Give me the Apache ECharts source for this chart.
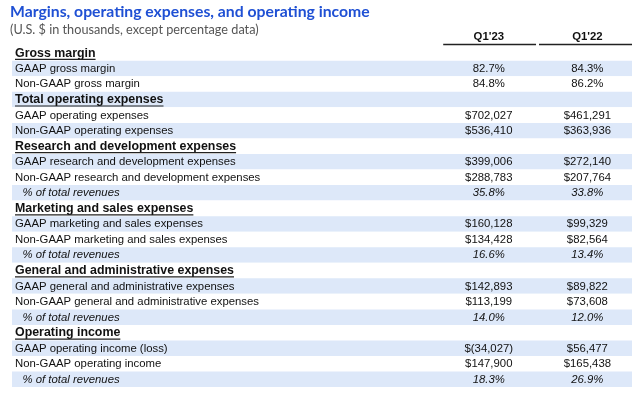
<!DOCTYPE html>
<html>
<head>
<meta charset="utf-8">
<script src="https://cdn.jsdelivr.net/npm/echarts@6/dist/echarts.min.js"></script>
<style>html,body{margin:0;padding:0;background:#fff}#c{width:640px;height:400px}</style>
</head>
<body>
<div id="c"></div>
<script>
// ---- data ----
var titleText = 'Margins, operating expenses, and operating income';
var subtitleText = '(U.S. $ in thousands, except percentage data)';
var columnNames = ["Q1'23", "Q1'22"];
var rowLabels = [
  'Gross margin',
  'GAAP gross margin',
  'Non-GAAP gross margin',
  'Total operating expenses',
  'GAAP operating expenses',
  'Non-GAAP operating expenses',
  'Research and development expenses',
  'GAAP research and development expenses',
  'Non-GAAP research and development expenses',
  '% of total revenues',
  'Marketing and sales expenses',
  'GAAP marketing and sales expenses',
  'Non-GAAP marketing and sales expenses',
  '% of total revenues',
  'General and administrative expenses',
  'GAAP general and administrative expenses',
  'Non-GAAP general and administrative expenses',
  '% of total revenues',
  'Operating income',
  'GAAP operating income (loss)',
  'Non-GAAP operating income',
  '% of total revenues'
];
var rowKinds = ['head','pct','pct','head','usd','usd','head','usd','usd','share','head','usd','usd','share','head','usd','usd','share','head','usd','usd','share'];
var q123Values = [null,82.7,84.8,null,702027,536410,null,399006,288783,35.8,null,160128,134428,16.6,null,142893,113199,14.0,null,-34027,147900,18.3];
var q122Values = [null,84.3,86.2,null,461291,363936,null,272140,207764,33.8,null,99329,82564,13.4,null,89822,73608,12.0,null,56477,165438,26.9];

// ---- layout / style ----
var colCenters = [0.769, 0.928];
var colBounds = [[0.6955, 0.8452], [0.8500, 1.0]];
var bodyFont = '"Liberation Sans", Arial, sans-serif';
var titleFont = 'Lato, "Open Sans", sans-serif';
var bodySize = 11.35, headSize = 12.4;

var ctx = document.createElement('canvas').getContext('2d');
function textWidth(t, font) { ctx.font = font; return ctx.measureText(t).width; }
function fitSize(t, weight, family, target) {
  var w = textWidth(t, weight + ' 20px ' + family);
  return 20 * target / w;
}
var titleSize = fitSize(titleText, 'bold', titleFont, 360);
var subSize = fitSize(subtitleText, 'normal', titleFont, 249);

function fmt(v, kind) {
  if (v === null || v === undefined) return '';
  if (kind === 'pct' || kind === 'share') return v.toFixed(1) + '%';
  var s = Math.abs(v).toString().replace(/\B(?=(\d{3})+(?!\d))/g, ',');
  return v < 0 ? '$(' + s + ')' : '$' + s;
}

var chart = echarts.init(document.getElementById('c'), null, {renderer: 'canvas'});

function renderRow(params, api) {
  var i = api.value(1);
  var kind = rowKinds[i];
  var p = api.coord([0, i]);
  var y = p[1];
  var children = [];
  var isHead = kind === 'head';
  var isShare = kind === 'share';
  var fs = isHead ? headSize : bodySize;
  var lx = p[0] + (isShare ? 10.5 : 3);
  children.push({
    type: 'text', x: lx, y: y + 0.3,
    style: {
      text: rowLabels[i], fill: '#111', fontSize: fs, fontFamily: bodyFont,
      fontWeight: isHead ? 'bold' : 'normal', fontStyle: isShare ? 'italic' : 'normal',
      align: 'left', verticalAlign: 'middle'
    }
  });
  if (isHead) {
    var w = textWidth(rowLabels[i], 'bold ' + headSize + 'px ' + bodyFont);
    children.push({
      type: 'line',
      shape: {x1: lx, y1: y + 6.4, x2: lx + w, y2: y + 6.4},
      style: {stroke: '#222', lineWidth: 1.2}
    });
  }
  var vals = [q123Values[i], q122Values[i]];
  for (var c = 0; c < 2; c++) {
    var t = fmt(vals[c], kind);
    if (!t) continue;
    var cx = api.coord([colCenters[c], i])[0];
    children.push({
      type: 'text', x: cx, y: y + 0.3,
      style: {
        text: t, fill: '#111', fontSize: bodySize, fontFamily: bodyFont,
        fontStyle: isShare ? 'italic' : 'normal', align: 'center', verticalAlign: 'middle'
      }
    });
  }
  return {type: 'group', children: children};
}

function renderColHead(params, api) {
  var c = api.value(2);
  var p = api.coord([api.value(0), 0]);
  var bh = api.size([0, 1])[1];
  var top = p[1] - bh / 2;
  var x1 = api.coord([colBounds[c][0], 0])[0];
  var x2 = api.coord([colBounds[c][1], 0])[0];
  return {type: 'group', children: [
    {type: 'text', x: p[0], y: top - 8.3,
     style: {text: columnNames[c], fill: '#111', fontSize: bodySize, fontWeight: 'bold',
             fontFamily: bodyFont, align: 'center', verticalAlign: 'middle'}},
    {type: 'line', shape: {x1: x1, y1: top - 0.6, x2: x2, y2: top - 0.6},
     style: {stroke: '#222', lineWidth: 1.5}}
  ]};
}

chart.setOption({
  animation: false,
  backgroundColor: '#fff',
  title: [
    {text: titleText, left: 10, top: 3.5, padding: 0,
     textStyle: {fontFamily: titleFont, fontWeight: 'bold', fontSize: titleSize, color: '#1f50d4'}},
    {text: subtitleText, left: 10, top: 23, padding: 0,
     textStyle: {fontFamily: titleFont, fontWeight: 'normal', fontSize: subSize, color: '#555'}}
  ],
  grid: {left: 12, right: 8, top: 45.2, bottom: 12.9},
  xAxis: {type: 'value', min: 0, max: 1, show: false, splitLine: {show: false}},
  yAxis: {
    type: 'category', inverse: true, data: rowLabels.map(function (_, i) { return String(i); }),
    axisLine: {show: false}, axisTick: {show: false, interval: 0}, axisLabel: {show: false, interval: 0},
    splitLine: {show: false},
    splitArea: {show: true, interval: 0, areaStyle: {color: ['#ffffff', '#dde8f9']}}
  },
  series: [
    {type: 'custom', renderItem: renderRow, encode: {x: 0, y: 1},
     data: rowLabels.map(function (_, i) { return [0, i]; })},
    {type: 'custom', renderItem: renderColHead, encode: {x: 0, y: 1},
     data: colCenters.map(function (x, c) { return [x, 0, c]; })}
  ]
});
</script>
</body>
</html>
